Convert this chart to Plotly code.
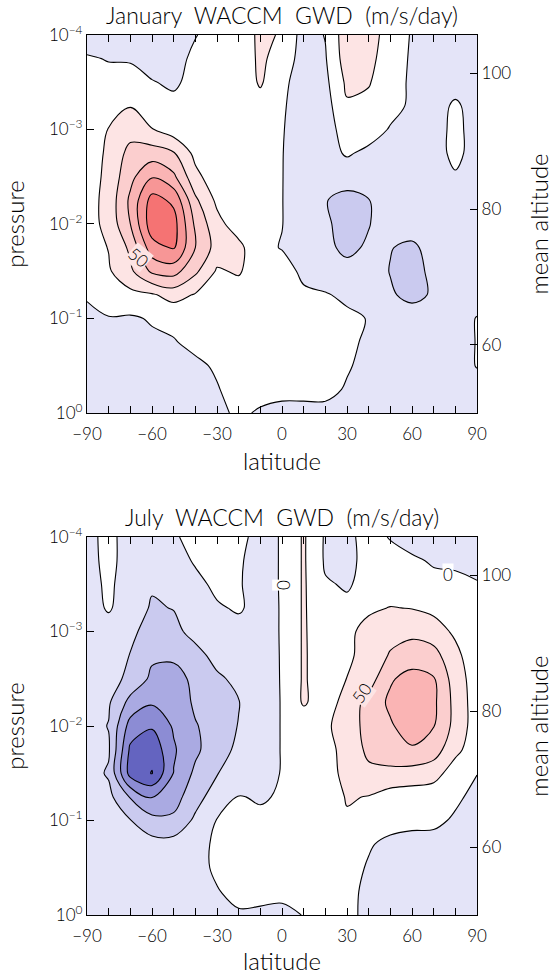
import plotly.graph_objects as go

# latitude grid (degrees) and log10 pressure levels (top of model down to 1 hPa-ish level 10^0)
lat = [-90, -80, -70, -60, -50, -40, -30, -20, -10, 0, 10, 20, 30, 40, 50, 60, 70, 80, 90]
log_p = [-4.0, -3.75, -3.5, -3.25, -3.0, -2.75, -2.5, -2.25, -2.0,
         -1.75, -1.5, -1.25, -1.0, -0.75, -0.5, -0.25, 0.0]

# zonal-mean gravity wave drag, m/s/day, one row per pressure level
gwd_jan = [
    [-10, -10, -10, -10, -8, -1, 8, 5, 32, 22, -10, 1, 40, 35, 15, -2, -10, -10, -10],
    [2, -1, -2, -8, -8, 5, 10, 8, 30, 14, -10, -2, 38, 32, 12, -3, -10, -10, -10],
    [5, 6, 8, 1, -3, 6, 10, 8, 28, 5, -10, -6, 30, 27, 8, -3, -8, -8, -8],
    [6, 15, 24, 8, 5, 8, 10, 10, 15, 2, -8, -10, 22, 18, 8, -4, -8, 3, -8],
    [8, 26, 40, 26, 12, 8, 9, 9, 10, 1, -8, -10, 10, 12, -2, -8, -8, 5, -8],
    [10, 30, 58, 62, 52, 18, 8, 8, 8, 0.5, -8, -10, 3, -6, -8, -8, -8, 5, -8],
    [12, 32, 68, 98, 80, 32, 10, 8, 8, 0.5, -10, -12, -15, -8, -8, -8, -8, -2, -8],
    [14, 34, 80, 135, 120, 55, 20, 8, 6, 0.5, -12, -24, -32, -26, -12, -12, -10, -8, -8],
    [14, 33, 75, 140, 135, 70, 33, 12, 5, 0.5, -12, -22, -32, -26, -14, -12, -10, -8, -8],
    [12, 26, 55, 115, 128, 75, 40, 32, 5, -1, -12, -20, -30, -22, -24, -30, -15, -10, -10],
    [10, 22, 45, 80, 85, 55, 22, 28, 8, 8, -4, -15, -18, -12, -26, -35, -18, -10, -10],
    [2, 10, 18, 22, 35, 23, 10, 12, 8, 8, 3, 2, -5, -12, -22, -32, -22, -10, -10],
    [-5, -1, -3, 2, 4, 6, 8, 10, 10, 10, 8, 5, 5, -1, -10, -12, -10, -10, 1],
    [-8, -8, -7, -4, -1, 4, 8, 10, 12, 12, 10, 8, 5, -4, -10, -10, -10, -10, 1],
    [-10, -10, -9, -8, -6, -3, 2, 8, 10, 10, 10, 8, 2, -6, -10, -10, -10, -10, 1],
    [-10, -10, -10, -10, -9, -6, -1, 6, 6, 5, 5, 6, -2, -8, -10, -10, -10, -10, -8],
    [-10, -10, -10, -10, -9, -8, -4, 3, -2, -5, -5, -6, -8, -10, -10, -10, -10, -10, -10],
]

gwd_jul = [
    [-5, 5, -8, -10, -3, 8, 10, 4, -5, 1, 28, -3, -4, 6, -1, -8, -8, -8, -8],
    [-6, 5, -8, -12, -8, 2, 10, 1.5, -5, 1, 28, -3, -5, 6, 6, 3, -2, -3, -5],
    [-6, 3, -8, -22, -15, -5, 4, 1, -5, 1, 28, 2, -2, 6, 8, 8, 5, 4, 1],
    [-8, 2, -10, -28, -24, -8, -2, 2, -6, 1, 28, 5, 4, 20, 26, 24, 18, 10, 4],
    [-10, -8, -18, -38, -33, -15, -7, -6, -6, 1, 28, 8, 18, 35, 42, 45, 38, 20, 6],
    [-10, -10, -26, -46, -46, -35, -15, -8, -7, 1, 28, 10, 20, 35, 52, 60, 58, 33, 5],
    [-10, -14, -32, -55, -58, -45, -30, -18, -8, 1, 28, 10, 25.5, 38, 72, 85, 77, 38, 12],
    [-12, -22, -58, -72, -70, -45, -35, -26, -10, 1, 28, 12, 35, 58, 80, 90, 80, 42, 12],
    [-15, -26, -85, -97, -72, -52, -38, -24, -10, 1, 8, 20, 38, 58, 72, 88, 76, 42, 12],
    [-15, -22, -105, -118, -78, -55, -35, -20, -10, 1, 8, 15, 35, 55, 68, 72, 62, 32, 10],
    [-14, -28, -110, -126, -74, -45, -26, -15, -8, 1, 8, 15, 32, 45, 42, 40, 35, 12, 0.5],
    [-10, -18, -52, -76, -60, -35, -12, 1, -2, 2, 5, 10, 27, 24, 15, 12, 10, 4, -6],
    [-8, -12, -24, -42, -45, -20, 1, 6, 4, 6, 8, 10, 22, 15, 8, 6, 5, -3, -8],
    [-8, -8, -12, -16, -15, -6, 3, 8, 8, 8, 8, 8, 10, 2, -5, -8, -8, -8, -10],
    [-8, -8, -8, -9, -9, -6, 3, 8, 8, 8, 8, 8, 8, -2, -10, -10, -10, -10, -10],
    [-8, -8, -8, -8, -8, -8, -1, 5, 5, 4, 5, 6, 6, -5, -10, -10, -10, -10, -10],
    [-8, -8, -8, -8, -8, -8, -8, -2, -3, -4, 0.5, 5, 5, -5, -10, -10, -10, -10, -10],
]

# contour levels (m/s/day) and the fill for each band, lowest band first
level_start, level_end, level_step = -150, 150, 25
band_colors = [
    "rgb(70,70,165)", "rgb(85,85,180)", "rgb(100,100,192)", "rgb(140,140,212)",
    "rgb(170,170,226)", "rgb(202,202,239)", "rgb(228,228,248)", "rgb(255,255,255)",
    "rgb(253,228,228)", "rgb(251,206,206)", "rgb(250,180,180)", "rgb(247,150,150)",
    "rgb(245,115,115)", "rgb(240,90,90)",
]
n_levels = (level_end - level_start) // level_step + 1
colorscale = [[k / n_levels, c] for k, c in enumerate(band_colors)]

pressure_ticks = [-4, -3, -2, -1, 0]
pressure_labels = ["10<sup>\u22124</sup>", "10<sup>\u22123</sup>", "10<sup>\u22122</sup>",
                   "10<sup>\u22121</sup>", "10<sup>0</sup>"]
lat_ticks = [-90, -60, -30, 0, 30, 60, 90]
alt_ticks = [60, 80, 100]
alt_range = [50, 105.6]   # mean altitude (km) spanning the same log-pressure range

FONT = "Lato"
ink = "black"

fig = go.Figure()

for z, xa, ya in [(gwd_jan, "x", "y"), (gwd_jul, "x2", "y3")]:
    fig.add_trace(go.Contour(
        x=lat, y=log_p, z=z, xaxis=xa, yaxis=ya,
        autocontour=False,
        contours=dict(start=level_start, end=level_end, size=level_step, coloring="fill"),
        colorscale=colorscale, showscale=False,
        line=dict(color=ink, width=1.1, smoothing=1.0),
        hoverinfo="skip",
    ))

# empty traces so the altitude axes are drawn
fig.add_trace(go.Scatter(x=[None], y=[None], xaxis="x", yaxis="y2", showlegend=False))
fig.add_trace(go.Scatter(x=[None], y=[None], xaxis="x2", yaxis="y4", showlegend=False))

tick_font = dict(family=FONT, size=17, color=ink, weight=300)
title_font = dict(family=FONT, size=24, color=ink, weight=300)

def lat_axis(anchor):
    return dict(
        anchor=anchor, domain=[0, 1], range=[-90, 90], automargin=False,
        tickvals=lat_ticks, ticktext=[str(v).replace("-", "\u2212") for v in lat_ticks],
        ticks="inside", ticklen=7, tickwidth=1, tickcolor=ink,
        minor=dict(dtick=10, ticks="inside", ticklen=5, tickcolor=ink, tickwidth=1),
        showline=True, linecolor=ink, linewidth=1.3, mirror="allticks",
        showgrid=False, zeroline=False, tickfont=tick_font,
        ticklabelstandoff=5,
        title=dict(text="latitude", font=title_font, standoff=10),
    )

def p_axis(anchor, domain):
    return dict(
        anchor=anchor, domain=domain, range=[0, -4], automargin=False,
        tickvals=pressure_ticks, ticktext=pressure_labels,
        ticks="inside", ticklen=7, tickwidth=1, tickcolor=ink,
        showline=True, linecolor=ink, linewidth=1.3, mirror=True,
        showgrid=False, zeroline=False, tickfont=tick_font,
        title=dict(text="pressure", font=title_font, standoff=22),
    )

def alt_axis(overlay, anchor):
    return dict(
        overlaying=overlay, anchor=anchor, side="right", range=alt_range, automargin=False,
        tickvals=alt_ticks, ticks="inside", ticklen=7, tickwidth=1, tickcolor=ink,
        showline=True, linecolor=ink, linewidth=1.3,
        showgrid=False, zeroline=False, tickfont=tick_font,
        title=dict(text="mean altitude", font=title_font, standoff=22),
    )

top_dom = [0.5705, 1.0]
bot_dom = [0.0, 0.4295]

fig.update_layout(
    width=553, height=975,
    margin=dict(l=87, r=76, t=35, b=60, autoexpand=False),
    paper_bgcolor="white", plot_bgcolor="white",
    showlegend=False,
    xaxis=lat_axis("y"),
    xaxis2=lat_axis("y3"),
    yaxis=p_axis("x", top_dom),
    yaxis3=p_axis("x2", bot_dom),
    yaxis2=alt_axis("y", "x"),
    yaxis4=alt_axis("y3", "x2"),
)

panel_titles = [("January  WACCM  GWD  (m/s/day)", 1.0), ("July  WACCM  GWD  (m/s/day)", bot_dom[1])]
for text, ytop in panel_titles:
    fig.add_annotation(text=text, xref="paper", yref="paper", x=0.5, y=ytop,
                       yanchor="bottom", yshift=4, showarrow=False,
                       font=dict(family=FONT, size=23, color=ink, weight=300))

# contour labels
contour_labels = [
    ("50", -66, -1.65, 40, "x", "y", "rgb(253,228,228)"),
    ("50", 37, -2.35, -55, "x2", "y3", "rgb(253,228,228)"),
    ("0", 0.4, -3.49, -90, "x2", "y3", "white"),
    ("0", 76.6, -3.6, 0, "x2", "y3", "white"),
]
for text, xv, yv, ang, xr, yr, bg in contour_labels:
    fig.add_annotation(text=text, x=xv, y=yv, xref=xr, yref=yr, textangle=ang,
                       showarrow=False, bgcolor=bg, borderpad=0,
                       font=dict(family=FONT, size=17, color=ink, weight=300))

fig.write_html("out.html")
